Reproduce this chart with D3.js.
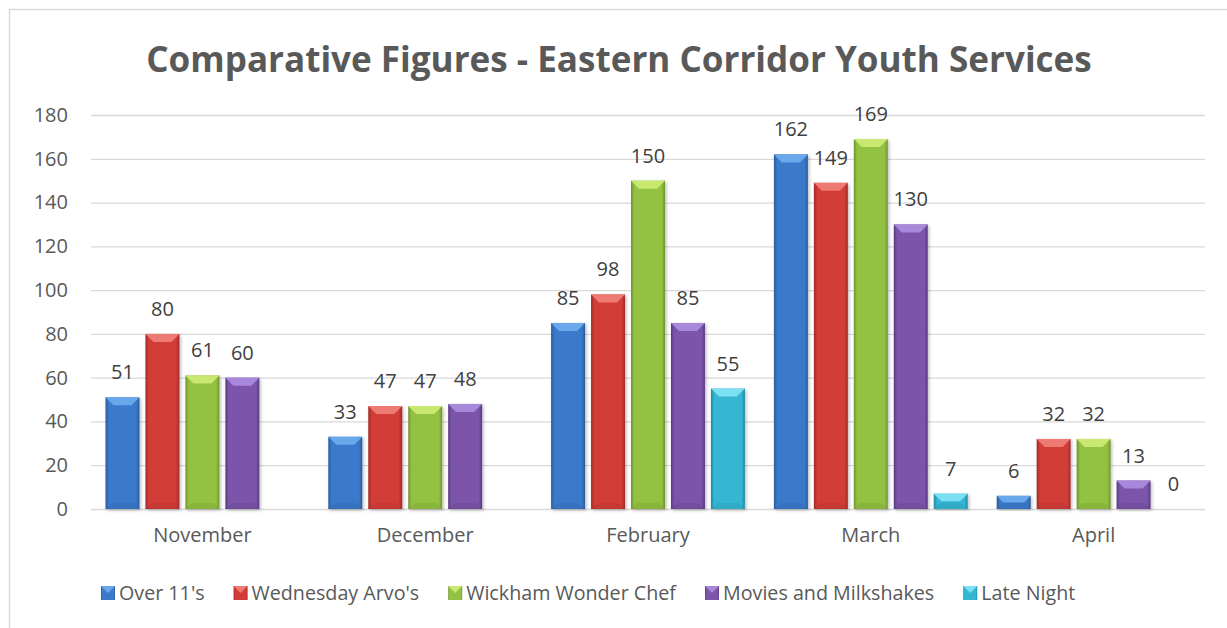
<!DOCTYPE html>
<html>
<head>
<meta charset="utf-8">
<script src="https://cdn.jsdelivr.net/npm/d3@7"></script>
<style>
  body { margin: 0; background: #fff; }
  text { font-family: "Open Sans", sans-serif; }
</style>
</head>
<body>
<div id="chart"></div>
<script>
// data
var categories = ["November", "December", "February", "March", "April"];
var seriesNames = ["Over 11's", "Wednesday Arvo's", "Wickham Wonder Chef", "Movies and Milkshakes", "Late Night"];
var overEleven = [51, 33, 85, 162, 6];
var wednesdayArvos = [80, 47, 98, 149, 32];
var wonderChef = [61, 47, 150, 169, 32];
var moviesMilkshakes = [60, 48, 85, 130, 13];
var lateNight = [null, null, 55, 7, 0];
var yTicks = [0, 20, 40, 60, 80, 100, 120, 140, 160, 180];

var seriesValues = [overEleven, wednesdayArvos, wonderChef, moviesMilkshakes, lateNight];

// colours: [dark edge, base, light top bevel]
var palette = [
  ["#2a5a98", "#3b7acb", "#6aa8ec"],
  ["#a02a28", "#d23c39", "#ee7a74"],
  ["#6f9430", "#93c142", "#c8e870"],
  ["#573a80", "#7c55aa", "#a888da"],
  ["#1f8aa4", "#35b6d2", "#7ce0f4"]
];

var W = 1227, H = 628;
var margin = {top: 115, right: 22, bottom: 119, left: 91};
var width = W - margin.left - margin.right,
    height = H - margin.top - margin.bottom;

var svg = d3.select("#chart").append("svg")
  .attr("width", W).attr("height", H);

var defs = svg.append("defs");
palette.forEach(function(c, i) {
  var g = defs.append("linearGradient").attr("id", "grad" + i)
    .attr("x1", "0%").attr("x2", "100%").attr("y1", "0%").attr("y2", "0%");
  g.append("stop").attr("offset", "0%").attr("stop-color", c[0]);
  g.append("stop").attr("offset", "10%").attr("stop-color", c[1]);
  g.append("stop").attr("offset", "55%").attr("stop-color", c[1]);
  g.append("stop").attr("offset", "90%").attr("stop-color", c[1]);
  g.append("stop").attr("offset", "100%").attr("stop-color", c[0]);
});
var sh = defs.append("filter").attr("id", "shadow")
  .attr("x", "-20%").attr("y", "-5%").attr("width", "140%").attr("height", "115%");
sh.append("feDropShadow").attr("dx", 1.5).attr("dy", 1.5).attr("stdDeviation", 1.5)
  .attr("flood-color", "#000").attr("flood-opacity", 0.25);

// outer chart border (runs off the right edge like the original)
svg.append("rect")
  .attr("x", 9.5).attr("y", 9.5).attr("width", 1240).attr("height", 640)
  .attr("fill", "none").attr("stroke", "#d9d9d9").attr("stroke-width", 1.5);

// title, sized to the original's width
var title = svg.append("text")
  .attr("x", 619).attr("y", 72)
  .attr("text-anchor", "middle")
  .attr("font-weight", "bold")
  .attr("font-size", 36)
  .attr("fill", "#595959")
  .text("Comparative Figures - Eastern Corridor Youth Services");
var tl = title.node().getComputedTextLength();
title.attr("font-size", 36 * 946 / tl);

var g = svg.append("g").attr("transform", "translate(" + margin.left + "," + margin.top + ")");

var x0 = d3.scaleBand().domain(categories).range([0, width]).padding(0);
var x1 = d3.scaleBand().domain(d3.range(seriesNames.length))
  .range([14.5, x0.bandwidth() - 14.5]).paddingInner(0.15).paddingOuter(0);
var y = d3.scaleLinear().domain([0, 180]).range([height, 0]);

// gridlines
g.append("g")
  .call(d3.axisLeft(y).tickValues(yTicks).tickSize(-width).tickFormat(""))
  .call(function(a) {
    a.select(".domain").remove();
    a.selectAll("line").attr("stroke", "#d9d9d9").attr("stroke-width", 1.3);
  });

// y labels
g.append("g")
  .call(d3.axisLeft(y).tickValues(yTicks).tickSize(0).tickPadding(23))
  .call(function(a) {
    a.select(".domain").remove();
    a.selectAll("text").attr("font-size", 20).attr("fill", "#595959")
      .attr("font-family", "Open Sans, sans-serif");
  });

// x labels
g.append("g")
  .attr("transform", "translate(0," + height + ")")
  .call(d3.axisBottom(x0).tickSize(0).tickPadding(19))
  .call(function(a) {
    a.select(".domain").remove();
    a.selectAll("text").attr("font-size", 20).attr("fill", "#595959")
      .attr("font-family", "Open Sans, sans-serif");
  });

// flatten into bar records
var bars = [];
categories.forEach(function(cat, ci) {
  seriesValues.forEach(function(vals, si) {
    if (vals[ci] !== null) bars.push({cat: cat, s: si, v: vals[ci]});
  });
});

var bw = x1.bandwidth();
var barG = g.selectAll(".bar").data(bars).enter().append("g")
  .attr("class", "bar")
  .attr("transform", function(d) { return "translate(" + (x0(d.cat) + x1(d.s)) + ",0)"; });

barG.filter(function(d) { return d.v > 0; })
  .append("rect")
  .attr("x", 0).attr("y", function(d) { return y(d.v); })
  .attr("width", bw).attr("height", function(d) { return height - y(d.v); })
  .attr("fill", function(d) { return "url(#grad" + d.s + ")"; })
  .attr("filter", "url(#shadow)");

// top bevel
barG.filter(function(d) { return d.v > 0; })
  .append("path")
  .attr("d", function(d) {
    var t = y(d.v), b = Math.min(8, (height - t) / 2);
    return "M0," + t + "L" + bw + "," + t + "L" + (bw - b) + "," + (t + b) + "L" + b + "," + (t + b) + "Z";
  })
  .attr("fill", function(d) { return palette[d.s][2]; });

// bottom shade
barG.filter(function(d) { return d.v > 0; })
  .append("path")
  .attr("d", function(d) {
    var t = y(d.v), b = Math.min(6, (height - t) / 2);
    return "M0," + height + "L" + bw + "," + height + "L" + (bw - b) + "," + (height - b) + "L" + b + "," + (height - b) + "Z";
  })
  .attr("fill", function(d) { return palette[d.s][0]; })
  .attr("opacity", 0.25);

// value labels
barG.append("text")
  .attr("x", bw / 2)
  .attr("y", function(d) { return y(d.v) - 18; })
  .attr("text-anchor", "middle")
  .attr("font-size", 20)
  .attr("fill", "#404040")
  .text(function(d) { return d.v; });

// legend
var lg = svg.append("g").attr("transform", "translate(101,593)");
var lx = 0;
seriesNames.forEach(function(name, i) {
  var item = lg.append("g").attr("transform", "translate(" + lx + ",0)");
  item.append("rect").attr("x", 0).attr("y", -7).attr("width", 14).attr("height", 14)
    .attr("fill", "url(#grad" + i + ")");
  item.append("path").attr("d", "M0,-7L14,-7L7,0Z").attr("fill", palette[i][2]);
  var t = item.append("text").attr("x", 18).attr("y", 7)
    .attr("font-size", 19.7).attr("fill", "#595959").text(name);
  lx += 18 + t.node().getComputedTextLength() + 29;
});
</script>
</body>
</html>
